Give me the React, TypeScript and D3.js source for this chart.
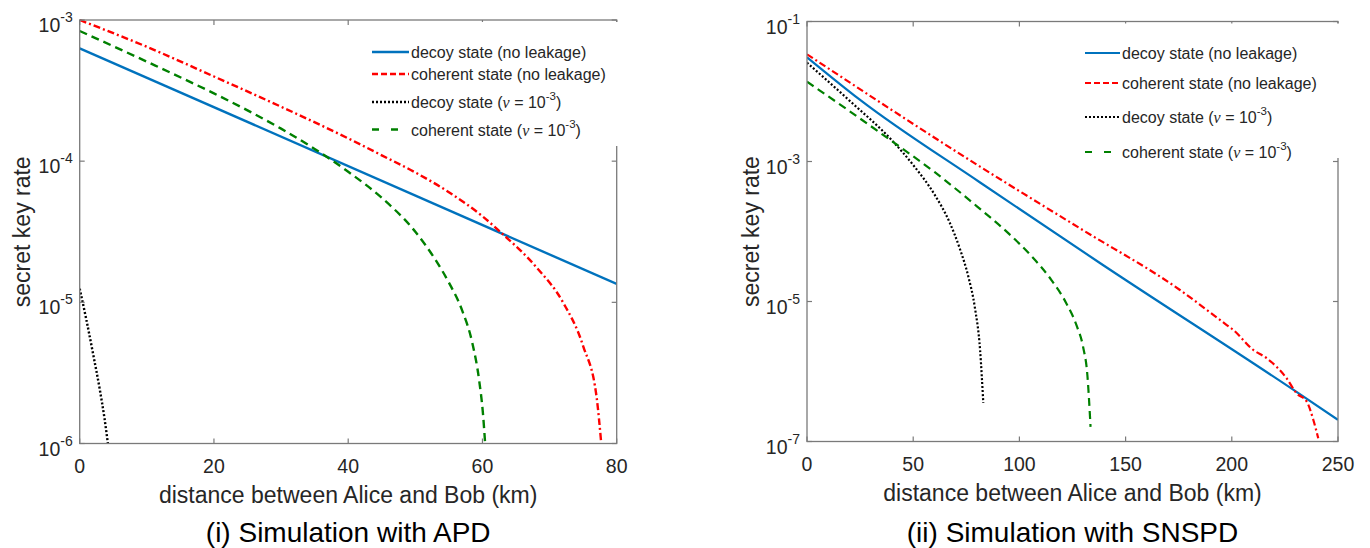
import React from 'react';
import * as d3 from 'd3';

type Pt = [number, number];

// ---------- Data: (i) APD ----------
const apdXTicks = [0, 20, 40, 60, 80];
const apdYExps = [-6, -5, -4, -3];
const apdDecoy: Pt[] = [[0, 6.3e-4], [80, 1.35e-5]];
const apdCoherent: Pt[] = [
  [0, 1.0e-3], [10, 6.46e-4], [20, 3.98e-4], [30, 2.43e-4], [40, 1.45e-4], [45, 1.1e-4],
  [50, 8.32e-5], [55, 6.03e-5], [60, 4.07e-5], [63.1, 3.02e-5], [68, 1.78e-5], [72, 1.0e-5],
  [75, 4.9e-6], [77, 2.14e-6], [77.7, 1.0e-6],
];
const apdDecoyLeak: Pt[] = [
  [0, 1.25e-5], [1, 7.5e-6], [2, 4.3e-6], [3, 2.4e-6], [3.7, 1.5e-6], [4.2, 1.0e-6],
];
const apdCoherentLeak: Pt[] = [
  [0, 8.36e-4], [10, 5.07e-4], [20, 3.02e-4], [25, 2.29e-4], [30, 1.7e-4], [35, 1.22e-4],
  [40, 8.41e-5], [45, 5.5e-5], [50, 3.16e-5], [53, 2.0e-5], [55, 1.38e-5], [57, 8.7e-6],
  [58.5, 5.13e-6], [59.5, 2.82e-6], [60.1, 1.58e-6], [60.4, 1.0e-6],
];

// ---------- Data: (ii) SNSPD ----------
const snspdXTicks = [0, 50, 100, 150, 200, 250];
const snspdYExps = [-7, -5, -3, -1];
const snspdDecoy: Pt[] = [
  [0, 3.09e-2], [25, 7.59e-3], [81.5, 5.01e-4], [137.9, 3.55e-5], [228.9, 5.5e-7], [250, 2.04e-7],
];
const snspdCoherent: Pt[] = [
  [0, 3.4e-2], [81.5, 8.43e-4], [128.5, 1.11e-4], [175.6, 1.46e-5], [197.6, 4.61e-6],
  [200.7, 3.92e-6], [210.1, 2.03e-6], [216.4, 1.55e-6], [225.8, 8.0e-7], [230.5, 4.89e-7],
  [235.3, 3.71e-7], [238.4, 2.03e-7], [240.7, 1.11e-7],
];
const snspdDecoyLeak: Pt[] = [
  [0, 2.58e-2], [20, 7.41e-3], [40, 2.0e-3], [50, 8.91e-4], [60, 3.39e-4], [67, 1.38e-4],
  [72, 5.62e-5], [76, 2.24e-5], [79, 8.32e-6], [81.5, 2.0e-6], [83.0, 3.55e-7],
];
const snspdCoherentLeak: Pt[] = [
  [0, 1.38e-2], [20, 5.25e-3], [40, 1.95e-3], [60, 7.08e-4], [80, 2.29e-4], [95, 9.33e-5],
  [105, 4.68e-5], [115, 2.04e-5], [122, 9.55e-6], [127, 4.47e-6], [130, 2.24e-6],
  [132, 8.91e-7], [133.5, 1.62e-7],
];

const legendNames = ['decoy state (no leakage)', 'coherent state (no leakage)', 'decoy state', 'coherent state'];
const xLabel = 'distance between Alice and Bob (km)';
const yLabel = 'secret key rate';
const titles = ['(i) Simulation with APD', '(ii) Simulation with SNSPD'];

// ---------- Styles ----------
const FONT = 'Liberation Sans, Arial, sans-serif';
const AXIS = '#7a7a7a';
const TEXT = '#262626';
const styles = [
  { color: '#0072BD', dash: undefined as string | undefined, legendDash: undefined as string | undefined },
  { color: '#FF0000', dash: '7,3,2,3', legendDash: '6,3' },
  { color: '#000000', dash: '2,2', legendDash: '2,2' },
  { color: '#008000', dash: '8,5', legendDash: '7,12' },
];

interface PanelCfg {
  id: string;
  left: number; right: number; top: number; bottom: number;
  xDomain: [number, number]; yDomain: [number, number];
  xTicks: number[]; yExps: number[];
  series: Pt[][];
  lw: number;
  legX0: number; legX1: number; legTx: number; legRows: number[]; legBottom: number;
  yLabelX: number; title: string;
}

const panels: PanelCfg[] = [
  {
    id: 'apd', left: 79.7, right: 616.7, top: 20, bottom: 443.5,
    xDomain: [0, 80], yDomain: [1e-6, 1e-3], xTicks: apdXTicks, yExps: apdYExps,
    series: [apdDecoy, apdCoherent, apdDecoyLeak, apdCoherentLeak], lw: 2.4,
    legX0: 372, legX1: 409, legTx: 411, legRows: [52, 74, 102, 129.5], legBottom: 146,
    yLabelX: 30, title: titles[0],
  },
  {
    id: 'snspd', left: 807, right: 1338, top: 21.5, bottom: 441.5,
    xDomain: [0, 250], yDomain: [1e-7, 1e-1], xTicks: snspdXTicks, yExps: snspdYExps,
    series: [snspdDecoy, snspdCoherent, snspdDecoyLeak, snspdCoherentLeak], lw: 2.2,
    legX0: 1085, legX1: 1120, legTx: 1122, legRows: [53, 83, 117, 152], legBottom: 158,
    yLabelX: 759, title: titles[1],
  },
];

function Panel({ p }: { p: PanelCfg }) {
  const x = d3.scaleLinear().domain(p.xDomain).range([p.left, p.right]);
  const y = d3.scaleLog().domain(p.yDomain).range([p.bottom, p.top]);
  const line = d3.line<Pt>().x(d => x(d[0])).y(d => y(d[1])).curve(d3.curveMonotoneX);
  const cx = (p.left + p.right) / 2;
  const cy = (p.top + p.bottom) / 2;
  const tl = 5;
  return (
    <g>
      <defs>
        <clipPath id={`clip-${p.id}`}>
          <rect x={p.left} y={p.top - 1} width={p.right - p.left} height={p.bottom - p.top + 2} />
        </clipPath>
      </defs>
      <rect x={p.left} y={p.top} width={p.right - p.left} height={p.bottom - p.top} fill="#fff" />
      {/* series */}
      <g clipPath={`url(#clip-${p.id})`}>
        {p.series.map((s, i) => (
          <path key={i} d={line(s) || ''} fill="none" stroke={styles[i].color} strokeWidth={p.lw}
            strokeDasharray={styles[i].dash} />
        ))}
      </g>
      {/* box */}
      <rect x={p.left} y={p.top} width={p.right - p.left} height={p.bottom - p.top} fill="none" stroke={AXIS} strokeWidth={1.3} />
      {/* x ticks */}
      {p.xTicks.map(t => (
        <g key={`xt${t}`}>
          <line x1={x(t)} x2={x(t)} y1={p.bottom} y2={p.bottom - tl} stroke={AXIS} strokeWidth={1.2} />
          <line x1={x(t)} x2={x(t)} y1={p.top} y2={p.top + tl} stroke={AXIS} strokeWidth={1.2} />
          <text x={x(t)} y={p.bottom + 29} textAnchor="middle" fontSize={19.5} fill={TEXT} fontFamily={FONT}>{t}</text>
        </g>
      ))}
      {/* y ticks */}
      {p.yExps.map(e => {
        const v = Math.pow(10, e);
        return (
          <g key={`yt${e}`}>
            <line x1={p.left} x2={p.left + tl} y1={y(v)} y2={y(v)} stroke={AXIS} strokeWidth={1.2} />
            <line x1={p.right} x2={p.right - tl} y1={y(v)} y2={y(v)} stroke={AXIS} strokeWidth={1.2} />
            <text x={p.left - 7} y={y(v) + 12} textAnchor="end" fontSize={19.5} fill={TEXT} fontFamily={FONT}>
              10<tspan dy={-10} fontSize={14}>{String(e)}</tspan>
            </text>
          </g>
        );
      })}
      {/* labels */}
      <text x={cx} y={p.bottom + 59} textAnchor="middle" fontSize={23} fill={TEXT} fontFamily={FONT}>{xLabel}</text>
      <text transform={`translate(${p.yLabelX},${cy}) rotate(-90)`} textAnchor="middle" fontSize={23} fill={TEXT} fontFamily={FONT}>{yLabel}</text>
      <text x={cx} y={542} textAnchor="middle" fontSize={28} fill="#000" fontFamily={FONT}>{p.title}</text>
      {/* legend (white box hiding the right border behind it) */}
      <rect x={p.legX0 - 6} y={p.top + 2} width={p.right + 1.5 - (p.legX0 - 6)} height={p.legBottom - p.top - 2} fill="#fff" />
      {legendNames.map((name, i) => {
        const ry = p.legRows[i];
        return (
          <g key={`lg${i}`}>
            <line x1={p.legX0} x2={p.legX1} y1={ry} y2={ry} stroke={styles[i].color} strokeWidth={p.lw}
              strokeDasharray={styles[i].legendDash} />
            <text x={p.legTx} y={ry + 6} fontSize={16} fill={TEXT} fontFamily={FONT}>
              {i < 2 ? name : (
                <>
                  {name} (<tspan fontStyle="italic" fontFamily="Liberation Serif, Times New Roman, serif">ν</tspan> = 10
                  <tspan dy={-8} fontSize={11.5}>-3</tspan><tspan dy={8}>)</tspan>
                </>
              )}
            </text>
          </g>
        );
      })}
    </g>
  );
}

export default function App() {
  return (
    <svg width={1370} height={548} style={{ position: 'absolute', left: 0, top: 0, background: '#fff' }}>
      <rect x={0} y={0} width={1370} height={548} fill="#fff" />
      {panels.map(p => <Panel key={p.id} p={p} />)}
    </svg>
  );
}
